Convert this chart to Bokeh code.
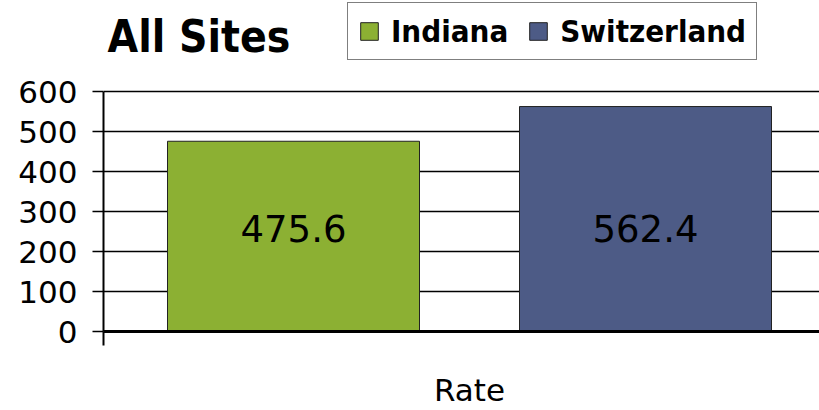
from bokeh.plotting import figure
from bokeh.models import Range1d, FixedTicker, Legend, LegendItem, Label, ColumnDataSource
from bokeh.embed import file_html
from bokeh.resources import INLINE

# ---- data ----
title_text = "All Sites"
category = "Rate"
series = ["Indiana", "Switzerland"]
values = [475.6, 562.4]
colors = ["#8CB033", "#4D5B86"]
y_ticks = [0, 100, 200, 300, 400, 500, 600]
y_max = 600

FONT = "DejaVu Sans, sans-serif"
FONT_C = "DejaVu Sans Condensed, DejaVu Sans, sans-serif"

# ---- geometry (pixels) ----
FRAME_L = 103
FRAME_W = 716
PLOT_TOP_PX = 91          # pixel row of the top gridline
PLOT_H_PX = 240           # pixels from 0 to y_max
FRAME_H = PLOT_TOP_PX + PLOT_H_PX
PX_PER_Y = PLOT_H_PX / y_max
CAT_PX = 732.0            # pixel width of the single category slot
BAR_W = 252.0 / CAT_PX
BAR_STEP = 352.0 / CAT_PX

p = figure(frame_width=FRAME_W, frame_height=FRAME_H,
           output_backend="svg", toolbar_location=None,
           x_range=Range1d(0, FRAME_W / CAT_PX),
           y_range=Range1d(0, y_max + PLOT_TOP_PX / PX_PER_Y),
           min_border_left=FRAME_L, min_border_right=0, min_border_top=0,
           min_border_bottom=0)
p.outline_line_color = None
p.background_fill_color = "white"
p.border_fill_color = "white"
p.xgrid.visible = False
p.ygrid.grid_line_color = "black"
p.ygrid.grid_line_width = 1.6
p.ygrid.ticker = FixedTicker(ticks=y_ticks)

# y axis
p.yaxis.ticker = FixedTicker(ticks=y_ticks)
p.yaxis.bounds = (0, y_max)
p.yaxis.axis_line_width = 2
p.yaxis.axis_line_color = "black"
p.yaxis.major_tick_out = 11
p.yaxis.major_tick_in = 0
p.yaxis.major_tick_line_width = 1.6
p.yaxis.minor_tick_line_color = None
p.yaxis.major_label_standoff = 15
p.yaxis.major_label_text_font = FONT
p.yaxis.major_label_text_font_size = "31px"
p.yaxis.major_label_text_color = "black"

# x axis
center = 0.5
p.xaxis.ticker = FixedTicker(ticks=[center], minor_ticks=[0])
p.xaxis.major_label_overrides = {center: category}
p.xaxis.major_tick_line_color = None
p.xaxis.minor_tick_out = 14
p.xaxis.minor_tick_in = 0
p.xaxis.minor_tick_line_color = "black"
p.xaxis.minor_tick_line_width = 2
p.xaxis.axis_line_width = 3
p.xaxis.axis_line_color = "black"
p.xaxis.major_label_standoff = 26
p.xaxis.major_label_text_font = FONT
p.xaxis.major_label_text_font_size = "31px"
p.xaxis.major_label_text_color = "black"

# bars
n = len(series)
xs = [center + (i - (n - 1) / 2) * BAR_STEP for i in range(n)]
items = []
for i, (s, v, c) in enumerate(zip(series, values, colors)):
    src = ColumnDataSource(dict(x=[xs[i]], top=[v]))
    r = p.vbar(x="x", top="top", bottom=0, width=BAR_W, source=src,
               fill_color=c, line_color="#222222", line_width=1)
    items.append(LegendItem(label=s, renderers=[r]))

# value labels
LABEL_Y = 258
for x, v in zip(xs, values):
    p.add_layout(Label(x=x, y=LABEL_Y, text=f"{v:.1f}", text_align="center",
                       text_baseline="middle", text_font=FONT,
                       text_font_size="37px", text_color="black"))

# title (inside the frame's upper band)
p.add_layout(Label(x=4 / CAT_PX, y=(FRAME_H - 36) / PX_PER_Y, text=title_text,
                   text_align="left", text_baseline="alphabetic", text_font=FONT_C,
                   text_font_size="44px", text_font_style="bold", text_color="black"))

# legend
legend = Legend(items=items, orientation="horizontal",
                location=(347 - FRAME_L, FRAME_H - 60))
legend.label_text_font = FONT_C
legend.label_text_font_size = "31px"
legend.label_text_font_style = "bold"
legend.label_text_color = "black"
legend.glyph_width = 22
legend.glyph_height = 22
legend.label_standoff = 11
legend.spacing = 19
legend.padding = 10
legend.margin = 0
legend.border_line_color = "black"
legend.border_line_width = 1
legend.background_fill_color = "white"
legend.background_fill_alpha = 1
p.add_layout(legend, "center")

open("out.html", "w").write(file_html(p, INLINE))
